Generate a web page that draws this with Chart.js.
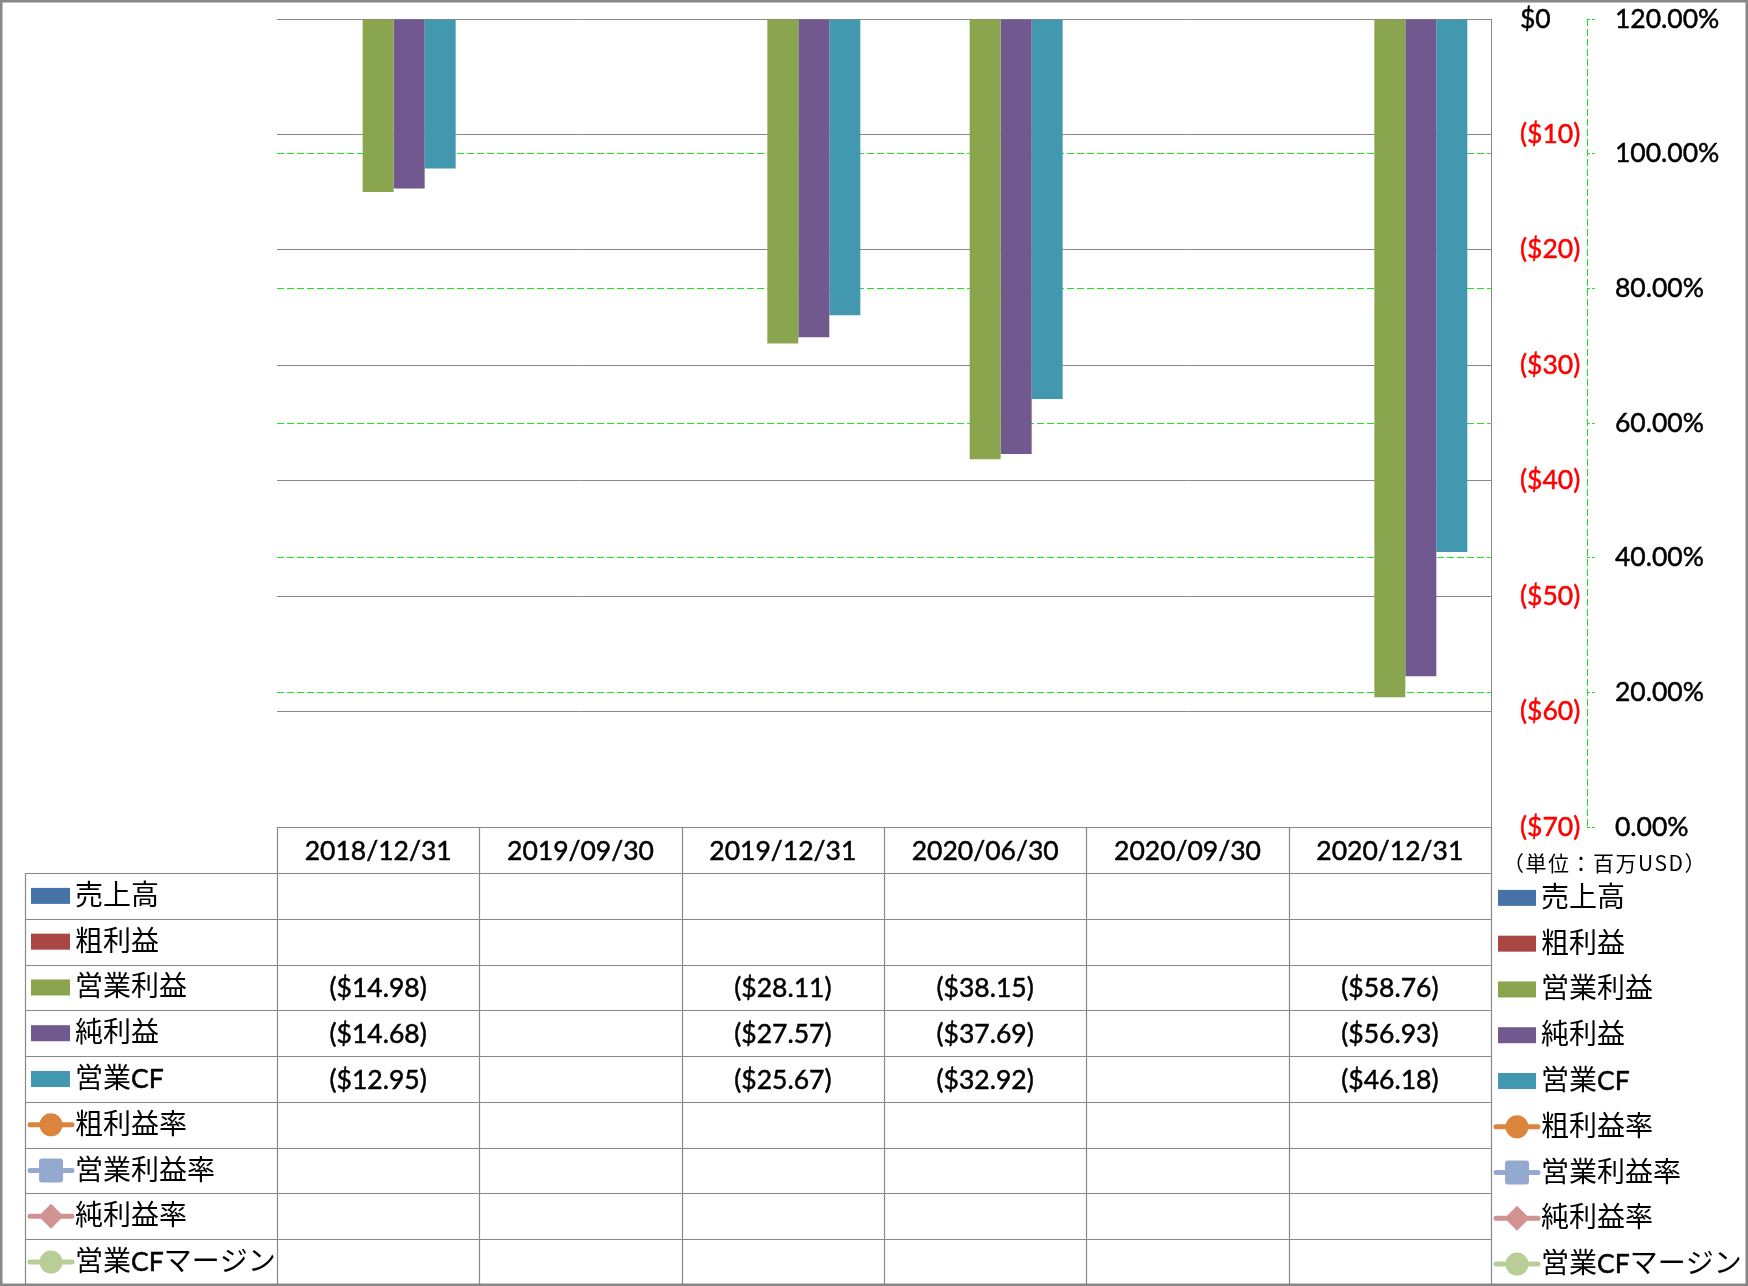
<!DOCTYPE html>
<html><head><meta charset="utf-8">
<script src="https://cdn.jsdelivr.net/npm/chart.js@4.4.1/dist/chart.umd.min.js"></script>
<style>html,body{margin:0;padding:0;background:#fff;}canvas{display:block;}</style>
</head><body>
<canvas id="c" width="1748" height="1286"></canvas>
<script>
// ---- data ----
const categories = ['2018/12/31', '2019/09/30', '2019/12/31', '2020/06/30', '2020/09/30', '2020/12/31'];
const sales           = [null, null, null, null, null, null];
const grossProfit     = [null, null, null, null, null, null];
const operatingProfit = [-14.98, null, -28.11, -38.15, null, -58.76];
const netProfit       = [-14.68, null, -27.57, -37.69, null, -56.93];
const operatingCF     = [-12.95, null, -25.67, -32.92, null, -46.18];
const grossMargin     = [null, null, null, null, null, null];
const operatingMargin = [null, null, null, null, null, null];
const netMargin       = [null, null, null, null, null, null];
const cfMargin        = [null, null, null, null, null, null];
const moneyMin = -70, moneyMax = 0, moneyStep = 10;
const pctMin = 0, pctMax = 120, pctStep = 20;
const unitLabel = '（単位：百万USD）';

const barNames  = ['売上高', '粗利益', '営業利益', '純利益', '営業CF'];
const barData   = [sales, grossProfit, operatingProfit, netProfit, operatingCF];
const barColors = ['#4572A7', '#AA4643', '#89A54E', '#71588F', '#4198AF'];
const lineNames  = ['粗利益率', '営業利益率', '純利益率', '営業CFマージン'];
const lineData   = [grossMargin, operatingMargin, netMargin, cfMargin];
const lineColors = ['#DB843D', '#93A9CF', '#D19392', '#B9CD96'];
const lineStyles = ['circle', 'rectRounded', 'rectRot', 'circle'];

const LATIN_FAMILY = 'Lato, "Noto Sans", sans-serif';
const LATIN_FONT = '26.5px ' + LATIN_FAMILY;
const CJK_FONT = '28px "Noto Sans CJK JP", sans-serif';
const GRID = '#888888';
const GREEN = '#1EE61E';

function money(v) {
  if (v === null || v === undefined) return '';
  const s = Math.abs(v).toFixed(2);
  return v < 0 ? '($' + s + ')' : '$' + s;
}
function moneyTick(v) {
  if (v === 0) return '$0';
  return v < 0 ? '($' + Math.abs(v) + ')' : '$' + v;
}

const datasets = [];
barNames.forEach((n, i) => datasets.push({
  type: 'bar', label: n, data: barData[i], backgroundColor: barColors[i],
  borderWidth: 0, yAxisID: 'y', categoryPercentage: 0.766, barPercentage: 1.0, order: 2
}));
lineNames.forEach((n, i) => datasets.push({
  type: 'line', label: n, data: lineData[i], borderColor: lineColors[i], backgroundColor: lineColors[i],
  pointStyle: lineStyles[i], pointRadius: 11, borderWidth: 5, yAxisID: 'y2', order: 1
}));

// split text into CJK / Latin runs and draw each with its own font, sharing one baseline
function isCJK(ch) { return /[\u3000-\u30ff\u3400-\u9fff\uff00-\uffef]/.test(ch); }
function splitRuns(text) {
  const out = [];
  for (const ch of text) {
    const c = isCJK(ch);
    if (out.length && out[out.length - 1].cjk === c) out[out.length - 1].t += ch;
    else out.push({ t: ch, cjk: c });
  }
  return out;
}
function drawMixed(ctx, text, x, baseline, align) {
  const runs = splitRuns(text);
  let total = 0;
  runs.forEach(r => { ctx.font = r.cjk ? CJK_FONT : LATIN_FONT; r.w = ctx.measureText(r.t).width; total += r.w; });
  let cx = align === 'center' ? x - total / 2 : (align === 'right' ? x - total : x);
  ctx.textAlign = 'left'; ctx.textBaseline = 'alphabetic';
  ctx.strokeStyle = ctx.fillStyle; ctx.lineWidth = 0.5; ctx.setLineDash([]);
  runs.forEach(r => {
    ctx.font = r.cjk ? CJK_FONT : LATIN_FONT;
    if (!r.cjk) ctx.strokeText(r.t, cx, baseline);
    ctx.fillText(r.t, cx, baseline);
    cx += r.w;
  });
}

function drawMarker(ctx, style, cx, cy, color) {
  ctx.save();
  ctx.strokeStyle = color; ctx.lineWidth = 5; ctx.lineCap = 'round';
  ctx.beginPath(); ctx.moveTo(cx - 21, cy); ctx.lineTo(cx + 21, cy); ctx.stroke();
  ctx.fillStyle = color;
  if (style === 'circle') {
    ctx.beginPath(); ctx.arc(cx, cy, 11.5, 0, Math.PI * 2); ctx.fill();
  } else if (style === 'rectRounded') {
    const s = 24, r = 3;
    ctx.beginPath(); ctx.roundRect(cx - s / 2, cy - s / 2, s, s, r); ctx.fill();
  } else if (style === 'rectRot') {
    const r = 12.5;
    ctx.beginPath(); ctx.moveTo(cx, cy - r); ctx.lineTo(cx + r, cy); ctx.lineTo(cx, cy + r); ctx.lineTo(cx - r, cy); ctx.closePath(); ctx.fill();
  }
  ctx.restore();
}

const tablePlugin = {
  id: 'dataTable',
  beforeDraw(chart) {
    const ctx = chart.ctx;
    ctx.save(); ctx.fillStyle = '#fff'; ctx.fillRect(0, 0, chart.width, chart.height); ctx.restore();
  },
  afterDraw(chart) {
    const ctx = chart.ctx;
    const ca = chart.chartArea;
    const xs = chart.scales.x;
    const y2 = chart.scales.y2;
    const n = categories.length;
    const catW = (ca.right - ca.left) / n;
    const headTop = ca.bottom, headBot = headTop + 46;
    const tableLeft = 25, tableBottom = 1285;
    const rows = barNames.length + lineNames.length;
    const rowH = (tableBottom - headBot) / rows;

    // dashed secondary axis line
    ctx.save();
    ctx.strokeStyle = GREEN; ctx.lineWidth = 1; ctx.setLineDash([7, 3]);
    ctx.beginPath(); ctx.moveTo(y2.left + 0.5, y2.top); ctx.lineTo(y2.left + 0.5, y2.bottom); ctx.stroke();
    ctx.restore();

    ctx.save();
    ctx.strokeStyle = GRID; ctx.lineWidth = 1.2;
    ctx.beginPath();
    ctx.moveTo(ca.left, headTop + 0.5); ctx.lineTo(ca.right, headTop + 0.5);
    for (let r = 0; r <= rows; r++) {
      const yy = Math.round(headBot + r * rowH) + 0.5;
      ctx.moveTo(tableLeft, yy); ctx.lineTo(ca.right, yy);
    }
    for (let i = 0; i <= n; i++) {
      const xx = Math.round(ca.left + i * catW) + 0.5;
      ctx.moveTo(xx, headTop); ctx.lineTo(xx, tableBottom);
    }
    ctx.moveTo(tableLeft + 0.5, headBot); ctx.lineTo(tableLeft + 0.5, tableBottom);
    ctx.stroke();

    ctx.fillStyle = '#000';
    categories.forEach((c, i) => drawMixed(ctx, c, xs.getPixelForValue(i), (headTop + headBot) / 2 + 9.5, 'center'));

    const allNames = barNames.concat(lineNames);
    const allData = barData.concat(lineData);
    allNames.forEach((name, r) => {
      const cy = headBot + r * rowH + rowH / 2;
      if (r < barNames.length) {
        ctx.fillStyle = barColors[r];
        ctx.fillRect(31, cy - 8, 39, 16);
        ctx.fillRect(1498, cy + 2 - 8, 38, 16);
      } else {
        const k = r - barNames.length;
        drawMarker(ctx, lineStyles[k], 51, cy, lineColors[k]);
        drawMarker(ctx, lineStyles[k], 1517, cy + 2, lineColors[k]);
      }
      ctx.fillStyle = '#000';
      drawMixed(ctx, name, 75, cy + 9, 'left');
      drawMixed(ctx, name, 1541, cy + 11, 'left');
      allData[r].forEach((v, i) => {
        if (v !== null && v !== undefined) drawMixed(ctx, money(v), xs.getPixelForValue(i), cy + 9.5, 'center');
      });
    });

    // unit label
    ctx.fillStyle = '#000';
    ctx.font = '21px "Noto Sans CJK JP", sans-serif';
    ctx.textAlign = 'center'; ctx.textBaseline = 'middle';
    try { ctx.letterSpacing = '1.5px'; } catch (e) {}
    ctx.fillText(unitLabel, 1605, 863);
    try { ctx.letterSpacing = '0px'; } catch (e) {}

    // outer border
    ctx.strokeStyle = GRID; ctx.lineWidth = 2.5;
    ctx.strokeRect(1.25, 1.25, chart.width - 2.5, chart.height - 2.5);
    ctx.restore();
  }
};

const moneyColor = c => (c.tick && c.tick.value < 0) ? '#FF0000' : '#000000';

new Chart(document.getElementById('c'), {
  data: { labels: categories, datasets: datasets },
  options: {
    responsive: false, animation: false, devicePixelRatio: 1,
    layout: { padding: { left: 277, top: 19, right: 0, bottom: 459 } },
    plugins: { legend: { display: false }, tooltip: { enabled: false } },
    scales: {
      x: { type: 'category', display: false, offset: true },
      y: {
        type: 'linear', position: 'right', weight: 0,
        min: moneyMin, max: moneyMax,
        afterFit: s => { s.width = 96; s.paddingTop = 0; s.paddingBottom = 0; },
        ticks: {
          stepSize: moneyStep, padding: 29, callback: v => moneyTick(v),
          font: { family: LATIN_FAMILY, size: 26.5 },
          color: moneyColor, textStrokeColor: moneyColor, textStrokeWidth: 0.5
        },
        grid: { color: GRID, lineWidth: 1, drawTicks: false },
        border: { display: true, color: GRID, width: 1 }
      },
      y2: {
        type: 'linear', position: 'right', weight: 1,
        min: pctMin, max: pctMax,
        afterFit: s => { s.width = 161; s.paddingTop = 0; s.paddingBottom = 0; },
        ticks: {
          stepSize: pctStep, padding: 20, callback: v => v.toFixed(2) + '%',
          font: { family: LATIN_FAMILY, size: 26.5 }, color: '#000000',
          textStrokeColor: '#000000', textStrokeWidth: 0.5
        },
        grid: {
          color: c => (c.tick && (c.tick.value === pctMax || c.tick.value === pctMin)) ? 'rgba(0,0,0,0)' : GREEN,
          tickColor: GREEN, tickLength: 8, tickBorderDash: [3, 2], lineWidth: 1
        },
        border: { display: false, dash: [7, 3] }
      }
    }
  },
  plugins: [tablePlugin]
});
</script>
</body></html>
